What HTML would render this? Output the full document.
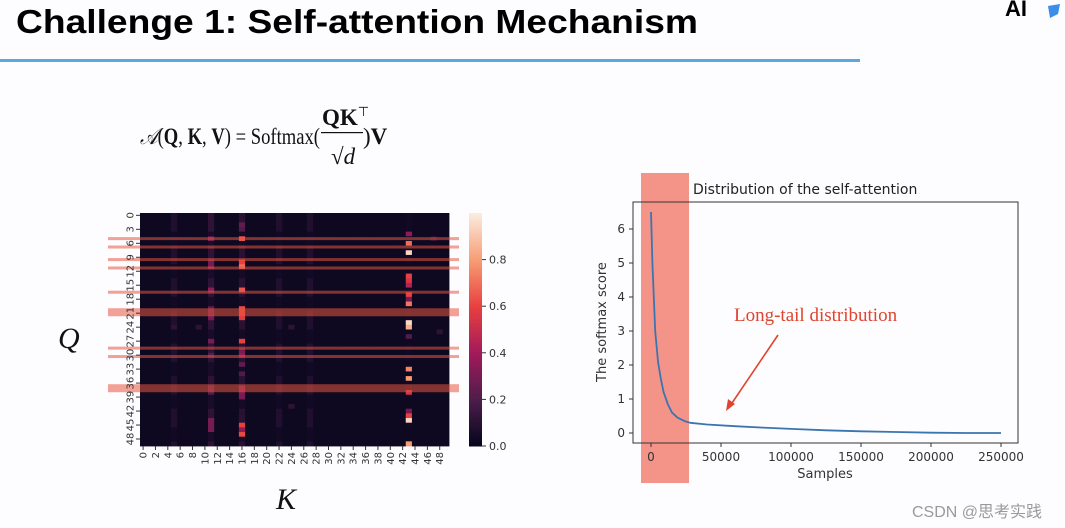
<!DOCTYPE html>
<html><head><meta charset="utf-8"><style>
html,body{margin:0;padding:0;background:#fdfcff;}
#root{position:relative;width:1065px;height:528px;overflow:hidden;background:#fdfcff;font-family:"Liberation Sans",sans-serif;}
</style></head><body>
<div id="root">
<svg id="svg" width="1065" height="528" viewBox="0 0 1065 528" xmlns="http://www.w3.org/2000/svg">
  <text x="16" y="33" font-family="Liberation Sans, sans-serif" font-weight="bold" font-size="33" fill="#000" textLength="682" lengthAdjust="spacingAndGlyphs">Challenge 1: Self-attention Mechanism</text>
  <rect x="0" y="59" width="860" height="3" fill="#5aa9de"/>
  <text x="1005" y="16" font-family="Liberation Sans, sans-serif" font-weight="bold" font-size="22" fill="#000">AI</text>
  <path d="M1048 6 L1060 4 L1058 14 L1050 18 Z" fill="#3b8ee8"/>

  <g font-family="Liberation Serif, serif" font-size="23" fill="#111">
    <text x="140" y="144" textLength="180" lengthAdjust="spacingAndGlyphs"><tspan font-style="italic">𝒜</tspan>(<tspan font-weight="bold">Q</tspan>, <tspan font-weight="bold">K</tspan>, <tspan font-weight="bold">V</tspan>) = Softmax(</text>
    <text x="322" y="125" font-weight="bold">QK<tspan font-weight="normal" font-size="13" dy="-9">⊤</tspan></text>
    <rect x="321" y="132" width="42" height="1.2" fill="#111"/>
    <text x="331" y="164">√<tspan font-style="italic">d</tspan></text>
    <text x="363" y="144">)<tspan font-weight="bold">V</tspan></text>
  </g>

  <text x="58" y="348" font-family="Liberation Serif, serif" font-style="italic" font-size="30" fill="#111">Q</text>
  <text x="276" y="509" font-family="Liberation Serif, serif" font-style="italic" font-size="30" fill="#111">K</text>

  <g id="heat"></g>
  <g id="line"></g>

  <text x="912" y="517" font-family="Liberation Sans, Noto Sans CJK SC, sans-serif" font-size="16" fill="#9a9a9a">CSDN @思考实践</text>
</svg>
</div>
<script>
// ---------- Heatmap data ----------
const heatRows = 50;
const heatCols = 50;
const faintCols = [5, 11, 16, 22, 27, 43];
const faintColValues = [0.08, 0.12, 0.1, 0.08, 0.08, 0.04];
const hotCells = [
 [5,16,0.65],[10,16,0.6],[11,16,0.7],[16,16,0.65],[20,16,0.62],[21,16,0.6],[22,16,0.58],[27,16,0.6],
 [29,16,0.3],[30,16,0.35],[32,16,0.25],[34,16,0.2],[37,16,0.3],[38,16,0.32],[39,16,0.3],[45,16,0.6],[46,16,0.35],[47,16,0.62],
 [4,43,0.35],[6,43,0.7],[8,43,0.95],[13,43,0.6],[14,43,0.55],[15,43,0.45],[17,43,0.6],[18,43,0.3],[19,43,0.72],
 [23,43,0.95],[24,43,0.85],[26,43,0.2],[33,43,0.75],[35,43,0.8],[38,43,0.55],[42,43,0.3],[43,43,0.6],[44,43,0.95],[49,43,0.8],
 [5,11,0.3],[10,11,0.28],[11,11,0.3],[16,11,0.35],[20,11,0.25],[21,11,0.25],[22,11,0.3],[27,11,0.3],[30,11,0.22],[37,11,0.2],[38,11,0.22],[44,11,0.3],[45,11,0.3],[46,11,0.3],
 [2,16,0.25],[3,16,0.2],[24,5,0.12],[24,9,0.12],[24,24,0.12],[41,24,0.12],[5,47,0.12],[25,48,0.12]
];
const highlightRows = [5.5, 7.3, 10, 11.8, 17, 21.3, 29, 30.8, 37.6];
const highlightThick = [3, 3, 3, 3, 3, 8, 3, 3, 8];
const yTicks = [0,3,6,9,12,15,18,21,24,27,30,33,36,39,42,45,48];
const cbTicks = [0.0, 0.2, 0.4, 0.6, 0.8];

// ---------- Line chart data ----------
const samples = [0,1000,2000,3000,5000,7000,9000,12000,15000,19000,24000,28000,40000,60000,80000,100000,125000,150000,175000,200000,225000,250000];
const scores  = [6.5,5.0,4.0,3.0,2.1,1.6,1.2,0.85,0.6,0.45,0.35,0.3,0.25,0.2,0.16,0.12,0.08,0.05,0.03,0.01,0.0,0.0];
const xTicks = [0,50000,100000,150000,200000,250000];
const yTicksLine = [0,1,2,3,4,5,6];

const NS = "http://www.w3.org/2000/svg";
function mk(tag, attrs, parent){ const e=document.createElementNS(NS,tag); for(const k in attrs) e.setAttribute(k,attrs[k]); parent.appendChild(e); return e; }

const stops=[[0,[3,5,26]],[0.2,[76,29,75]],[0.4,[161,26,91]],[0.6,[232,63,63]],[0.8,[246,156,115]],[1,[250,235,221]]];
function cmap(v){ v=Math.max(0,Math.min(1,v)); for(let i=0;i<stops.length-1;i++){ const a=stops[i],b=stops[i+1]; if(v<=b[0]){ const t=(v-a[0])/(b[0]-a[0]); const c=a[1].map((x,j)=>Math.round(x+(b[1][j]-x)*t)); return `rgb(${c[0]},${c[1]},${c[2]})`; } } return "rgb(250,235,221)"; }

// heatmap
const heat=document.getElementById('heat');
const hx0=140,hx1=449,hy0=213,hy1=446;
const cw=(hx1-hx0)/heatCols, ch=(hy1-hy0)/heatRows;
const colX=c=>hx0+c*cw, rowY=r=>hy0+r*ch;
const grid=[];
for(let r=0;r<heatRows;r++){ grid.push([]); for(let c=0;c<heatCols;c++) grid[r].push(0.03); }
faintCols.forEach((c,i)=>{ for(let r=0;r<heatRows;r++) grid[r][c]=Math.max(grid[r][c],faintColValues[i]*((r%7<4)?1:0.5)); });
hotCells.forEach(([r,c,v])=>{ grid[r][c]=v; });
for(let r=0;r<heatRows;r++) for(let c=0;c<heatCols;c++){
  const cell=mk('rect',{x:colX(c).toFixed(2),y:rowY(r).toFixed(2),width:(cw+0.4).toFixed(2),height:(ch+0.4).toFixed(2),fill:cmap(grid[r][c])},heat);
  
  
}
highlightRows.forEach((r,i)=>{
  const y=rowY(r); const t=highlightThick[i];
  const band=mk('rect',{x:108,y:(y-t/2).toFixed(2),width:351,height:t,fill:'#e8553f','fill-opacity':0.55},heat);
  
  
});
yTicks.forEach(v=>{
  const y=rowY(v+0.5);
  mk('line',{x1:hx0-4,x2:hx0,y1:y,y2:y,stroke:'#333','stroke-width':1},heat);
  const t=mk('text',{x:hx0-10,y:y+3.5,'font-size':10,fill:'#333','text-anchor':'middle',transform:`rotate(-90 ${hx0-10} ${y})`,'font-family':'DejaVu Sans, sans-serif'},heat);
  t.textContent=v;
  
  
});
for(let c=0;c<heatCols;c+=2){
  const x=colX(c+0.5);
  mk('line',{x1:x,x2:x,y1:hy1,y2:hy1+4,stroke:'#333','stroke-width':1},heat);
  const t=mk('text',{x:x,y:hy1+6,'font-size':10,fill:'#333','text-anchor':'end',transform:`rotate(-90 ${x} ${hy1+6})`,'font-family':'DejaVu Sans, sans-serif',dy:'3.5'},heat);
  t.textContent=c;
  
  
}
// colorbar
const cbx=469,cbw=13;
for(let i=0;i<100;i++){ const v=1-i/100; mk('rect',{x:cbx,y:(hy0+i*(hy1-hy0)/100).toFixed(2),width:cbw,height:((hy1-hy0)/100+0.5).toFixed(2),fill:cmap(v)},heat); }
const cbY=v=>hy1-(v/1.0)*(hy1-hy0);
cbTicks.forEach(v=>{
  const y=cbY(v);
  mk('line',{x1:cbx+cbw,x2:cbx+cbw+4,y1:y,y2:y,stroke:'#333'},heat);
  const t=mk('text',{x:cbx+cbw+7,y:y+4,'font-size':11,fill:'#333','font-family':'DejaVu Sans, sans-serif'},heat);
  t.textContent=v.toFixed(1);
  
  
});

// line chart
const lg=document.getElementById('line');
const lx0=633,lx1=1018,ly0=202,ly1=443;
const xs=v=>651+v/250000*350, ys=v=>433-v*34;
const band=mk('rect',{x:641,y:173,width:48,height:310,fill:'#f1796b','fill-opacity':0.8},lg);


mk('rect',{x:lx0,y:ly0,width:lx1-lx0,height:ly1-ly0,fill:'none',stroke:'#333','stroke-width':1},lg);
const tt=mk('text',{x:693,y:194,'font-size':14,fill:'#222','font-family':'DejaVu Sans, sans-serif'},lg);
tt.textContent='Distribution of the self-attention';


xTicks.forEach(v=>{
  const x=xs(v);
  mk('line',{x1:x,x2:x,y1:ly1,y2:ly1+4,stroke:'#333'},lg);
  const t=mk('text',{x:x,y:ly1+18,'font-size':12,fill:'#333','text-anchor':'middle','font-family':'DejaVu Sans, sans-serif'},lg);
  t.textContent=v;
  
  
});
yTicksLine.forEach(v=>{
  const y=ys(v);
  mk('line',{x1:lx0-4,x2:lx0,y1:y,y2:y,stroke:'#333'},lg);
  const t=mk('text',{x:lx0-8,y:y+4,'font-size':12,fill:'#333','text-anchor':'end','font-family':'DejaVu Sans, sans-serif'},lg);
  t.textContent=v;
  
  
});
const xl=mk('text',{x:825,y:478,'font-size':13,fill:'#333','text-anchor':'middle','font-family':'DejaVu Sans, sans-serif'},lg);
xl.textContent='Samples';


const yl=mk('text',{x:606,y:322,'font-size':13,fill:'#333','text-anchor':'middle','font-family':'DejaVu Sans, sans-serif',transform:'rotate(-90 606 322)'},lg);
yl.textContent='The softmax score';


const d=samples.map((s,i)=>(i?'L':'M')+xs(s).toFixed(1)+' '+ys(scores[i]).toFixed(1)).join(' ');
const path=mk('path',{d:d,fill:'none',stroke:'#3b75af','stroke-width':1.8,'stroke-linejoin':'round'},lg);


const ann=mk('text',{x:734,y:321,'font-size':19,fill:'#e0442f','font-family':'Liberation Serif, serif'},lg);
ann.textContent='Long-tail distribution';


const arr=mk('line',{x1:778,y1:335,x2:730,y2:406,stroke:'#e0442f','stroke-width':1.6},lg);


mk('path',{d:'M726 411 L728 399 L735 404 Z',fill:'#e0442f'},lg);
</script>
</body></html>
